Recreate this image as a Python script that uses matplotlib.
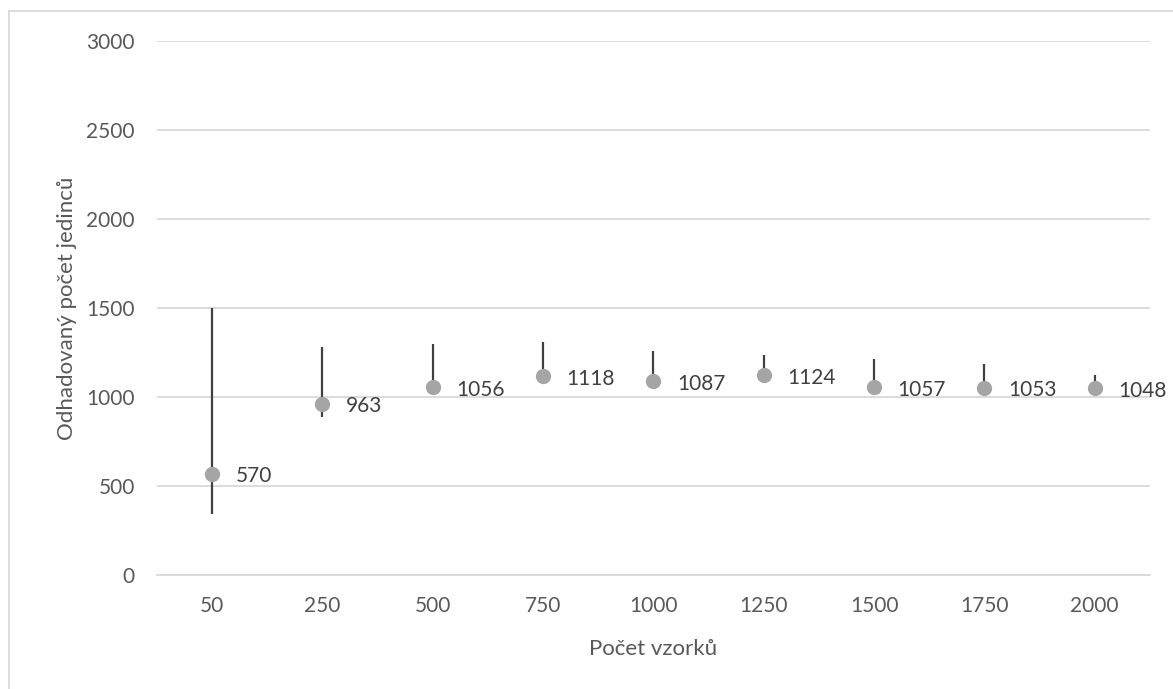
import matplotlib.pyplot as plt
from matplotlib.patches import Rectangle

# Data
sample_sizes = ["50", "250", "500", "750", "1000", "1250", "1500", "1750", "2000"]
estimates = [570, 963, 1056, 1118, 1087, 1124, 1057, 1053, 1048]
upper = [1500, 1282, 1300, 1307, 1258, 1236, 1212, 1184, 1124]
lower = [345, 889, 1030, 1095, 1070, 1105, 1040, 1040, 1035]

text_color = "#595959"
font = ["Lato", "DejaVu Sans"]
fs = 15

fig = plt.figure(figsize=(11.73, 6.89), dpi=100)
ax = fig.add_axes([0.1338, 0.1655, 0.8465, 0.775])

x = list(range(len(sample_sizes)))

# Range lines from low to high
ax.vlines(x, lower, upper, color="#404040", linewidth=1.6, zorder=2)
# Point estimates
ax.plot(x, estimates, linestyle="none", marker="o", markersize=11,
        color="#A5A5A5", markeredgewidth=0, zorder=3)

for xi, v in zip(x, estimates):
    ax.annotate(str(v), (xi, v), xytext=(17, -2), textcoords="offset points",
                ha="left", va="center", fontsize=fs, color="#404040",
                family=font, zorder=4, annotation_clip=False)

ax.set_xlim(-0.5, len(sample_sizes) - 0.5)
ax.set_ylim(0, 3000)
ax.set_yticks(range(0, 3001, 500))
ax.set_xticks(x)
ax.set_xticklabels(sample_sizes)
ax.yaxis.grid(True, color="#D9D9D9", linewidth=1.3)
ax.set_axisbelow(True)
for s in ("top", "right", "left"):
    ax.spines[s].set_visible(False)
ax.spines["bottom"].set_color("#D9D9D9")
ax.spines["bottom"].set_linewidth(1.3)
ax.tick_params(length=0, labelsize=fs, labelcolor=text_color)
ax.tick_params(axis="x", pad=15)
ax.tick_params(axis="y", pad=16)
for lbl in ax.get_xticklabels() + ax.get_yticklabels():
    lbl.set_family(font)

ax.set_xlabel("Počet vzorků", fontsize=16, color=text_color, family=font, labelpad=17)
ax.set_ylabel("Odhadovaný počet jedinců", fontsize=16, color=text_color, family=font, labelpad=7)

# Chart area border
fig.patches.append(Rectangle((9 / 1173, -0.01), 1.02, 1 - 11 / 689 + 0.01,
                             transform=fig.transFigure, fill=False,
                             edgecolor="#D9D9D9", linewidth=1.3))

fig.savefig("out.png", dpi=100)
